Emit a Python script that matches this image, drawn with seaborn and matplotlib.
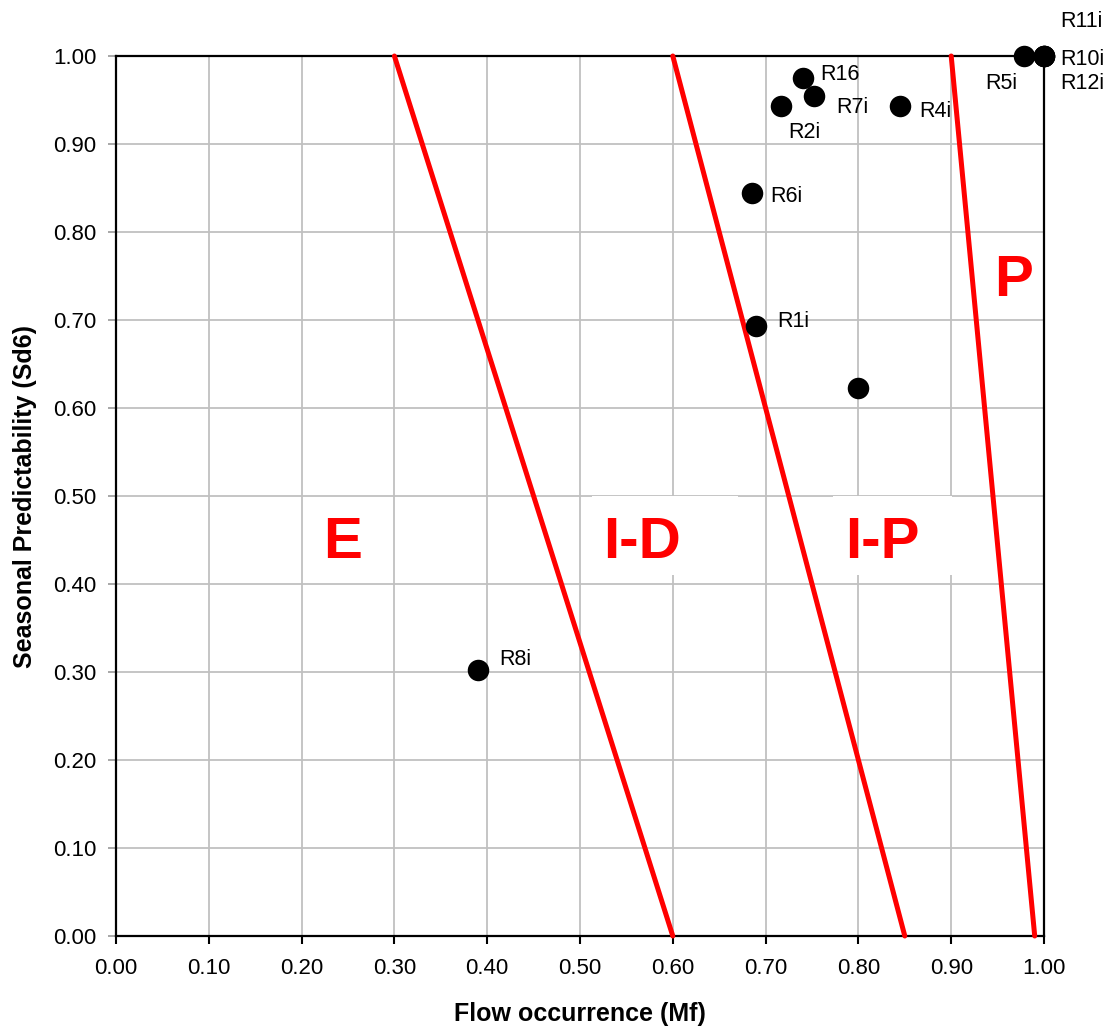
import matplotlib
matplotlib.use("Agg")
import matplotlib.pyplot as plt
from matplotlib.patches import Rectangle
from matplotlib.ticker import MultipleLocator, FormatStrFormatter
import seaborn as sns
import pandas as pd

# Sites: flow occurrence (Mf) vs seasonal predictability (Sd6)
site_labels = ["R8i", "R1i", "", "R6i", "R2i", "R16", "R7i", "R4i",
               "R5i", "R10i", "R11i", "R12i"]
flow_occurrence = [0.39, 0.69, 0.80, 0.685, 0.717, 0.74, 0.752, 0.845,
                   0.978, 1.00, 1.00, 1.00]
seasonal_predictability = [0.302, 0.693, 0.623, 0.844, 0.943, 0.975, 0.955, 0.943,
                           1.00, 1.00, 1.00, 1.00]

# Regime boundaries (each from Sd6 = 1 down to Sd6 = 0)
boundary_mf_top = [0.30, 0.60, 0.90]
boundary_mf_bottom = [0.60, 0.85, 0.99]
boundary_sd_top = [1.0, 1.0, 1.0]
boundary_sd_bottom = [0.0, 0.0, 0.0]

# Regime names
regime_names = ["E", "I-D", "I-P", "P"]

# Label placement for the site names (pixels right, pixels down to baseline)
label_offsets = {
    "R8i": (21, -5), "R1i": (21, 1), "R6i": (19, 9), "R2i": (7, 32),
    "R16": (18, 2), "R7i": (22, 17), "R4i": (19, 11), "R5i": (-38, 33),
    "R10i": (16, 9), "R11i": (16, -29), "R12i": (16, 33),
}
regime_positions = {"E": (0.2446, 0.43), "I-D": (0.567, 0.43),
                    "I-P": (0.826, 0.43), "P": (0.967, 0.727)}
regime_boxes = {"I-D": (0.513, 0.41, 0.157, 0.09),
                "I-P": (0.773, 0.41, 0.128, 0.09)}

sns.set_style("white")
plt.rcParams["font.family"] = ["Liberation Sans", "DejaVu Sans"]
plt.rcParams["text.color"] = "black"
plt.rcParams["axes.labelcolor"] = "black"
plt.rcParams["xtick.labelcolor"] = "black"
plt.rcParams["ytick.labelcolor"] = "black"

fig = plt.figure(figsize=(11.09, 10.29), dpi=100)
ax = fig.add_axes([116 / 1109, 93 / 1029, 928 / 1109, 880 / 1029])

df = pd.DataFrame({"Mf": flow_occurrence, "Sd6": seasonal_predictability,
                   "site": site_labels})

ax.set_xlim(0, 1)
ax.set_ylim(0, 1)
ax.set_axisbelow(True)
ax.grid(True, color="#c0c0c0", linewidth=1.3)

for name, (x0, y0, w, h) in regime_boxes.items():
    ax.add_patch(Rectangle((x0, y0), w, h, facecolor="white",
                           edgecolor="none", zorder=1.5))

for xt, xb, yt, yb in zip(boundary_mf_top, boundary_mf_bottom,
                          boundary_sd_top, boundary_sd_bottom):
    sns.lineplot(x=[xt, xb], y=[yt, yb], ax=ax, color="#ff0000",
                 linewidth=3.6, sort=False, estimator=None, zorder=3,
                 clip_on=False)

sns.scatterplot(data=df, x="Mf", y="Sd6", ax=ax, color="black", s=240,
                edgecolor="black", linewidth=0, zorder=4, clip_on=False,
                legend=False)

for lab, x, y in zip(site_labels, flow_occurrence, seasonal_predictability):
    if not lab:
        continue
    dx, dy = label_offsets[lab]
    ax.annotate(lab, (x, y), xytext=(dx, -dy), textcoords="offset pixels",
                ha="left", va="baseline", fontsize=15.5, color="black",
                annotation_clip=False, zorder=5)

for name in regime_names:
    x, y = regime_positions[name]
    ax.text(x, y, name, ha="center", va="baseline", fontsize=42,
            fontweight="bold", color="#ff0000", zorder=2)

ax.xaxis.set_major_locator(MultipleLocator(0.1))
ax.yaxis.set_major_locator(MultipleLocator(0.1))
ax.xaxis.set_major_formatter(FormatStrFormatter("%.2f"))
ax.yaxis.set_major_formatter(FormatStrFormatter("%.2f"))
ax.tick_params(axis="x", direction="out", length=6, width=1.5, color="black",
               labelsize=16, pad=10, bottom=True, labelcolor="black")
ax.tick_params(axis="y", direction="out", length=6, width=1.3, color="#a0a0a0",
               labelsize=16, pad=8, left=True, labelcolor="black")

for sp in ax.spines.values():
    sp.set_visible(True)
    sp.set_color("black")
    sp.set_linewidth(1.6)

ax.set_xlabel("Flow occurrence (Mf)", fontsize=18, fontweight="bold",
              color="black")
ax.set_ylabel("Seasonal Predictability (Sd6)", fontsize=18, fontweight="bold",
              color="black")
ax.xaxis.set_label_coords(0.5, -0.075)
ax.yaxis.set_label_coords(-0.085, 0.5)

fig.savefig("out.png", dpi=100, facecolor="white")
